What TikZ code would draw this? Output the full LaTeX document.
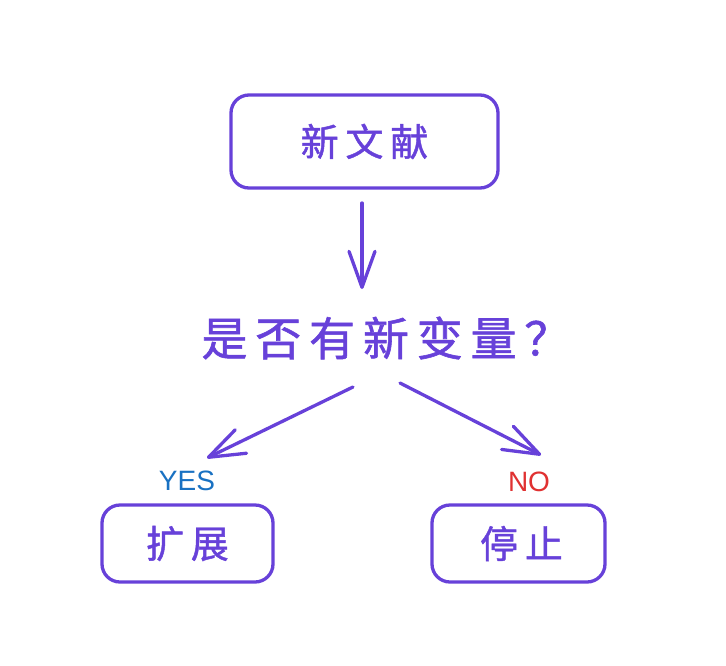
\documentclass[tikz,border=0pt]{standalone}
\usepackage{fontspec}
\newfontfamily\cjk[FakeBold=1.2,LetterSpace=18]{Noto Sans CJK SC}
\newfontfamily\cjkq[FakeBold=1.2,LetterSpace=17]{Noto Sans CJK SC}
\newfontfamily\latinf{Liberation Sans}
\usetikzlibrary{arrows.meta}
\definecolor{violet}{HTML}{6741D9}
\definecolor{yesblue}{HTML}{1971C2}
\definecolor{nored}{HTML}{E03131}
\tikzset{
  box/.style={draw=violet, line width=3.3pt, rounded corners=18pt, text=violet, inner sep=0pt, font=\cjk\fontsize{38}{40}\selectfont},
  qtext/.style={text=violet, inner sep=0pt, font=\cjkq\fontsize{46}{50}\selectfont},
  arr/.style={draw=violet, line width=3.3pt, line cap=round, line join=round, -{Straight Barb[length=36pt,width=26pt,line cap=round,line join=round]}},
  lbl/.style={inner sep=0pt, font=\latinf\fontsize{28}{30}\selectfont}
}
\begin{document}
\begin{tikzpicture}[x=1pt,y=-1pt]
\useasboundingbox (0,0) rectangle (726,665);
\node[box, minimum width=267pt, minimum height=93pt] (top) at (364.5,141.5) {新文献};
\node[qtext] (q) at (386,338) {是否有新变量？};
\node[box, minimum width=171pt, minimum height=77pt] (yesbox) at (187.5,543.5) {扩展};
\node[box, minimum width=173pt, minimum height=77pt, text width=173pt, align=center] (nobox) at (518.5,543.5) {\hspace*{6pt}停止};
\node[lbl, text=yesblue] (yes) at (187,481) {YES};
\node[lbl, text=nored] (no) at (529,482) {NO};
\coordinate (d1) at (362,203);
\coordinate (d2) at (362,289);
\coordinate (l1) at (353,387);
\coordinate (l2) at (207,458);
\coordinate (r1) at (400,383);
\coordinate (r2) at (541,455);
\draw[arr] (d1) -- (d2);
\draw[arr] (l1) -- (l2);
\draw[arr] (r1) -- (r2);
\end{tikzpicture}
\end{document}
